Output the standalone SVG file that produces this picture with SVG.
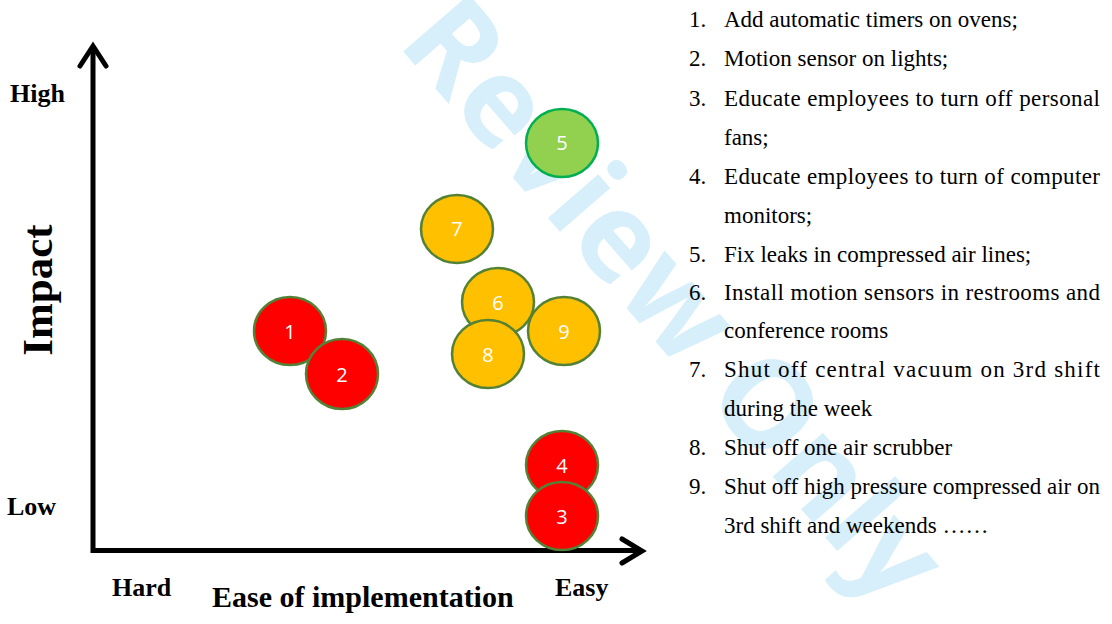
<svg xmlns="http://www.w3.org/2000/svg" width="1112" height="624" viewBox="0 0 1112 624">
  <style>
    .axis { fill: none; stroke: #000; stroke-width: 5; stroke-linecap: butt; stroke-linejoin: miter; }
    .head { fill: none; stroke: #000; stroke-width: 5; stroke-linecap: round; stroke-linejoin: miter; }
    .lbl { font-family: "Liberation Serif", "Times New Roman", serif; font-weight: bold; fill: #000; }
    .item { font-family: "Liberation Serif", "Times New Roman", serif; font-size: 23px; fill: #000; }
    .dot { stroke: #538135; stroke-width: 2.5; }
    .red { fill: #FF0000; }
    .amber { fill: #FFC000; }
    .green { fill: #92D050; stroke: #00B050; }
    .num { font-family: "Open Sans", "Liberation Sans", sans-serif; font-size: 20px; fill: #fff; text-anchor: middle; }
    .mark { font-family: "Open Sans", "Liberation Sans", sans-serif; font-weight: bold; font-size: 122px; fill: #D6EFFB; text-anchor: middle; }
  </style>

  <rect width="1112" height="624" fill="#fff"/>

  <!-- background watermark -->
  <text class="mark" transform="translate(678,296) rotate(49)" dominant-baseline="central">Review Only</text>

  <!-- axes -->
  <g id="connectors">
    <path class="axis" d="M93,48 V550.5 H640"/>
    <path class="head" d="M80,66 L93,46 L106,66"/>
    <path class="head" d="M622,539 L642,551 L622,563"/>
  </g>

  <!-- axis labels -->
  <g id="labels">
    <text class="lbl" x="10" y="102" font-size="26">High</text>
    <text class="lbl" x="7" y="515" font-size="26">Low</text>
    <text class="lbl" font-size="43" text-anchor="middle" transform="translate(52,290) rotate(-90)">Impact</text>
    <text class="lbl" x="112" y="596" font-size="26">Hard</text>
    <text class="lbl" x="555" y="596" font-size="26">Easy</text>
    <text class="lbl" x="212" y="607" font-size="30">Ease of implementation</text>
  </g>

  <!-- measures plotted as bubbles -->
  <g id="n5"><ellipse class="dot green" cx="562" cy="143" rx="36" ry="34"/><text class="num" x="562" y="150">5</text></g>
  <g id="n7"><ellipse class="dot amber" cx="457" cy="229" rx="36" ry="34"/><text class="num" x="457" y="236">7</text></g>
  <g id="n6"><ellipse class="dot amber" cx="498" cy="302" rx="36" ry="34"/><text class="num" x="498" y="310">6</text></g>
  <g id="n9"><ellipse class="dot amber" cx="564" cy="331" rx="36" ry="34"/><text class="num" x="564" y="339">9</text></g>
  <g id="n8"><ellipse class="dot amber" cx="488" cy="354" rx="36" ry="34"/><text class="num" x="488" y="362">8</text></g>
  <g id="n1"><ellipse class="dot red" cx="290" cy="331" rx="36" ry="34"/><text class="num" x="290" y="339">1</text></g>
  <g id="n2"><ellipse class="dot red" cx="342" cy="374" rx="36" ry="35"/><text class="num" x="342" y="382">2</text></g>
  <g id="n4"><ellipse class="dot red" cx="562" cy="465" rx="36" ry="34"/><text class="num" x="562" y="473">4</text></g>
  <g id="n3"><ellipse class="dot red" cx="562" cy="516" rx="36" ry="34"/><text class="num" x="562" y="524">3</text></g>

  <!-- numbered list of measures -->
  <g id="legend">
    <text class="item" x="689" y="27">1.</text>
    <text class="item" x="724" y="27">Add automatic timers on ovens;</text>
    <text class="item" x="689" y="66">2.</text>
    <text class="item" x="724" y="66">Motion sensor on lights;</text>
    <text class="item" x="689" y="106">3.</text>
    <text class="item" x="724" y="106" textLength="376" lengthAdjust="spacing">Educate employees to turn off personal</text>
    <text class="item" x="724" y="145">fans;</text>
    <text class="item" x="689" y="184">4.</text>
    <text class="item" x="724" y="184" textLength="376" lengthAdjust="spacing">Educate employees to turn of computer</text>
    <text class="item" x="724" y="223">monitors;</text>
    <text class="item" x="689" y="262">5.</text>
    <text class="item" x="724" y="262">Fix leaks in compressed air lines;</text>
    <text class="item" x="689" y="300">6.</text>
    <text class="item" x="724" y="300" textLength="376" lengthAdjust="spacing">Install motion sensors in restrooms and</text>
    <text class="item" x="724" y="338">conference rooms</text>
    <text class="item" x="689" y="377">7.</text>
    <text class="item" x="724" y="377" textLength="376" lengthAdjust="spacing">Shut off central vacuum on 3rd shift</text>
    <text class="item" x="724" y="416">during the week</text>
    <text class="item" x="689" y="455">8.</text>
    <text class="item" x="724" y="455">Shut off one air scrubber</text>
    <text class="item" x="689" y="494">9.</text>
    <text class="item" x="724" y="494" textLength="376" lengthAdjust="spacing">Shut off high pressure compressed air on</text>
    <text class="item" x="724" y="533">3rd shift and weekends ……</text>
  </g>
</svg>
